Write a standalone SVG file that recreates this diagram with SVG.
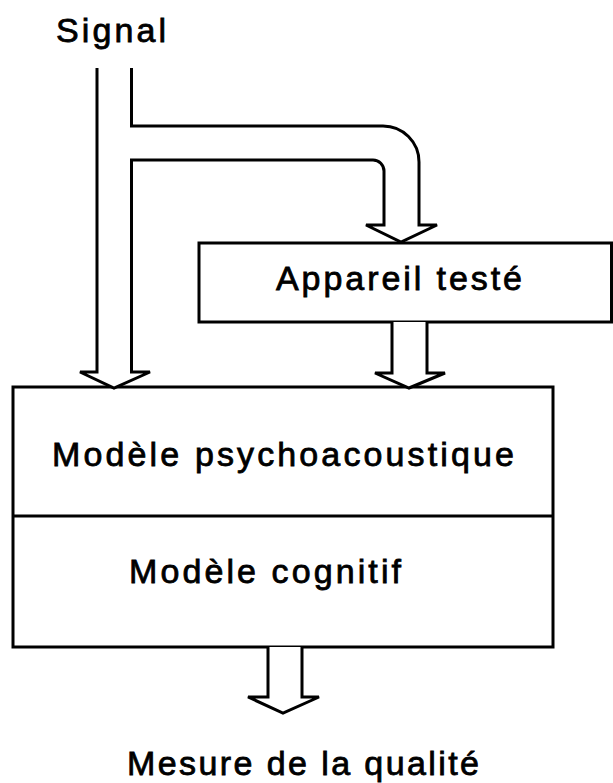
<svg xmlns="http://www.w3.org/2000/svg" width="613" height="783" viewBox="0 0 613 783">
  <style>
    .box { fill: #ffffff; stroke: #000000; stroke-width: 3; }
    .line { fill: none; stroke: #000000; stroke-width: 3; }
    .arrow { fill: #ffffff; stroke: #000000; stroke-width: 3; stroke-linejoin: miter; }
    .label { font-family: "Liberation Sans", Arial, sans-serif; font-size: 34px; fill: #000000; stroke: #000000; stroke-width: 0.8; }
  </style>
  <rect width="613" height="783" fill="#ffffff"/>

  <!-- Input label -->
  <g id="signal">
    <text class="label" x="56" y="42" textLength="110" lengthAdjust="spacing">Signal</text>
  </g>

  <!-- Device under test -->
  <g id="appareil">
    <rect class="box" x="199" y="243" width="412.5" height="79"/>
    <text class="label" x="276" y="290" textLength="246" lengthAdjust="spacing">Appareil testé</text>
  </g>

  <!-- Perceptual model: psychoacoustic stage above cognitive stage -->
  <g id="modele">
    <rect class="box" x="13" y="387" width="540" height="260"/>
    <line class="line" x1="13" y1="516" x2="553" y2="516"/>
    <text class="label" x="52" y="466" textLength="462" lengthAdjust="spacing">Modèle psychoacoustique</text>
    <text class="label" x="129" y="583" textLength="272" lengthAdjust="spacing">Modèle cognitif</text>
  </g>

  <!-- Output label -->
  <g id="mesure">
    <text class="label" x="127" y="775" textLength="352" lengthAdjust="spacing">Mesure de la qualité</text>
  </g>

  <!-- Block arrows -->
  <g id="connecteurs">
    <!-- reference branch: straight down into the model -->
    <path class="arrow" d="M97,68 V372 H80 L114,388 L150,372 H131.5 V160 H373 A11,11 0 0 1 384,171 V225 H366 L401,242 L437,225 H419 V162 A36,36 0 0 0 383,126 H131.5 V68"/>
    <!-- device output into the model -->
    <path class="arrow" d="M392,322 V373 H375 L409,388 L445,373 H427 V322"/>
    <!-- model output -->
    <path class="arrow" d="M268,647 V697 H248 L283,713 L319,697 H302 V647"/>
  </g>
</svg>
